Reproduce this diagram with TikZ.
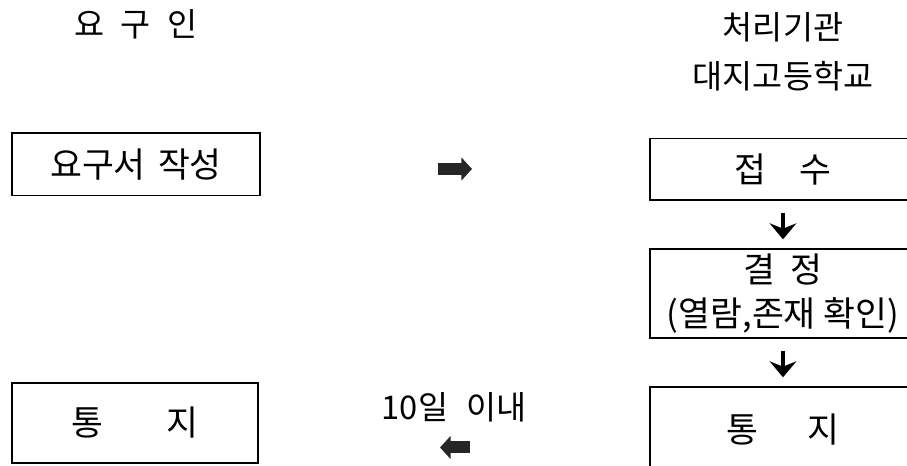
\documentclass[tikz,border=0pt]{standalone}
\usepackage{fontspec}
\setmainfont{Noto Sans CJK KR}
\usetikzlibrary{arrows.meta}

\begin{document}
\begin{tikzpicture}[x=0.75pt,y=-0.75pt,
    box/.style={draw,line width=1pt,inner sep=0pt,align=center,
      font=\fontsize{26}{33}\selectfont},
    head/.style={align=center,font=\fontsize{24.5}{37}\selectfont},
    fat/.style={line width=9pt,draw=black!85,-{Triangle[length=8pt,width=17pt]}},
    down/.style={line width=2.6pt,-{Stealth[length=12pt,width=20pt,inset=4pt]},
      shorten <=9pt,shorten >=6.75pt}]
  \useasboundingbox (0,0) rectangle (907,466);
  \clip (0,0) rectangle (907,466);
  % column heads
  \node[head] (who) at (136,24) {요\hspace{0.5em}구\hspace{0.5em}인};
  \node[head] (org) at (783,52) {처리기관\\대지고등학교};
  % left column
  \node[box,minimum width=186pt,minimum height=47pt] (req) at (136,164.5)
    {요구서\hspace{0.35em}작성};
  \node[box,minimum width=184.5pt,minimum height=60pt] (gotit) at (135,423)
    {통\hspace{1.8em}지};
  % right column
  \node[box,minimum width=199.5pt,minimum height=46pt] (recv) at (783,169.5)
    {접\hspace{0.95em}수};
  \node[box,minimum width=199.5pt,minimum height=66.75pt] (decide) at (783,293.5)
    {결\hspace{0.45em}정\\(열람,존재 확인)};
  \node[box,minimum width=199.5pt,minimum height=64.5pt] (notify) at (783,430)
    {통\hspace{1.4em}지};
  \draw[down] (recv) -- (decide);
  \draw[down] (decide) -- (notify);
  % between the columns
  \coordinate (goA) at (438,169);
  \coordinate (goB) at (472,169);
  \draw[fat] (goA) -- (goB);
  \node[head] (days) at (454,407) {10일\hspace{0.55em}이내};
  \coordinate (backA) at (470,447.5);
  \coordinate (backB) at (440,447.5);
  \draw[fat] (backA) -- (backB);
\end{tikzpicture}
\end{document}
